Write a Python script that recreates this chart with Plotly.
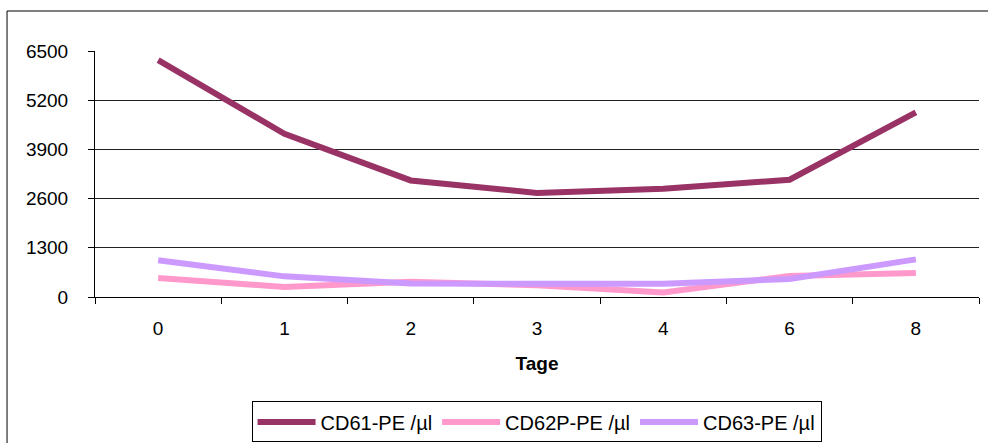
import plotly.graph_objects as go

days = ["0", "1", "2", "3", "4", "6", "8"]
cd61 = [6260, 4310, 3080, 2750, 2860, 3100, 4880]
cd62p = [500, 265, 400, 310, 120, 555, 635]
cd63 = [970, 545, 355, 335, 350, 475, 995]
y_ticks = [0, 1300, 2600, 3900, 5200, 6500]

series = [
    ("CD61-PE /µl", cd61, "#993366"),
    ("CD62P-PE /µl", cd62p, "#FF99CC"),
    ("CD63-PE /µl", cd63, "#CC99FF"),
]

FONT = "Liberation Sans, Arial, sans-serif"

fig = go.Figure()
for name, vals, col in series:
    fig.add_trace(go.Scatter(
        x=days, y=vals, name=name, mode="lines",
        line=dict(color=col, width=6),
    ))

fig.update_layout(
    width=988, height=443,
    margin=dict(l=95, r=9, t=51, b=146, autoexpand=False),
    paper_bgcolor="white", plot_bgcolor="white",
    font=dict(family=FONT, size=19, color="black"),
    showlegend=True,
    legend=dict(
        orientation="h", x=0.4995, xanchor="center", y=-0.508, yanchor="middle",
        bordercolor="black", borderwidth=1, bgcolor="white",
        font=dict(family=FONT, size=20, color="black"),
        itemwidth=58, tracegroupgap=0,
    ),
    xaxis=dict(
        type="category", range=[-0.5, 6.5],
        tickson="boundaries", ticks="outside", ticklen=6, tickcolor="black",
        showline=True, linecolor="black", linewidth=1,
        showgrid=False, zeroline=False, ticklabelstandoff=14,
        title=dict(text="<b>Tage</b>", font=dict(family=FONT, size=19), standoff=18),
        tickfont=dict(family=FONT, size=19),
    ),
    yaxis=dict(
        range=[0, 6500], tickvals=y_ticks,
        ticks="outside", ticklen=6, tickcolor="black",
        showline=True, linecolor="black", linewidth=1,
        showgrid=True, gridcolor="#222222", gridwidth=1,
        zeroline=False, ticklabelstandoff=16,
        tickfont=dict(family=FONT, size=19),
    ),
    shapes=[dict(
        type="rect", xref="paper", yref="paper",
        x0=-0.0995, x1=1.02, y0=-0.75, y1=1.1626,
        line=dict(color="black", width=1), fillcolor="rgba(0,0,0,0)",
        layer="below",
    )],
)

fig.write_html("out.html", config={"displayModeBar": False},
               post_script="document.body.style.margin='0';")
